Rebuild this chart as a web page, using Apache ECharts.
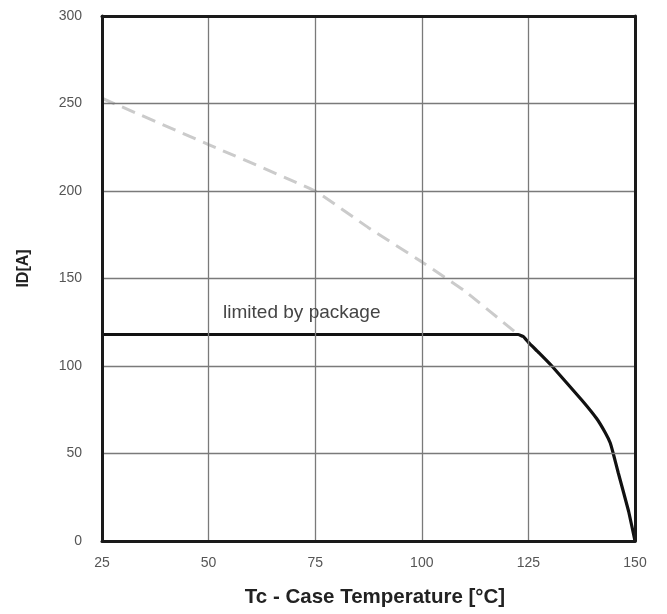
<!DOCTYPE html>
<html>
<head>
<meta charset="utf-8">
<script src="https://cdn.jsdelivr.net/npm/echarts@6/dist/echarts.min.js"></script>
<style>
html,body{margin:0;padding:0;background:#fff;}
#c{width:667px;height:614px;}
</style>
</head>
<body>
<div id="c"></div>
<script>
const xTicks = [25, 50, 75, 100, 125, 150];
const yTicks = [0, 50, 100, 150, 200, 250, 300];
const packageLimitTemp = [25, 122.6, 123.8, 125, 127.5, 130.5, 137.5, 141, 143, 144.2, 144.9, 146.1, 148.5, 150];
const packageLimitId   = [118, 118, 116.8, 113.5, 107.5, 100, 80.6, 70, 62, 56, 50, 38.7, 17, 0];
const siliconTemp = [25, 50, 75, 87.5, 100, 110, 122.6];
const siliconId   = [253, 226.5, 200, 179, 159.5, 143, 118];
const annotation = 'limited by package';

const chart = echarts.init(document.getElementById('c'), null, {renderer: 'canvas'});
const font = '"Liberation Sans", Arial, sans-serif';
const border = {show: true, onZero: false, lineStyle: {color: '#1a1a1a', width: 3}};
chart.setOption({
  animation: false,
  backgroundColor: '#fff',
  grid: {left: 102, right: 32, top: 16, bottom: 73, show: false},
  xAxis: [{
    type: 'value', min: xTicks[0], max: xTicks[xTicks.length-1], interval: 25,
    name: 'Tc - Case Temperature [\u00b0C]', nameLocation: 'middle', nameGap: 46,
    nameTextStyle: {fontFamily: font, fontWeight: 'bold', fontSize: 20.5, color: '#222', padding: [0, 0, 0, 13]},
    axisLine: border, axisTick: {show: false},
    axisLabel: {fontFamily: font, fontSize: 14, color: '#555', margin: 15},
    splitLine: {show: true, lineStyle: {color: '#7a7a7a', width: 1.3}},
    z: 5
  }, {
    type: 'value', position: 'top', min: xTicks[0], max: xTicks[xTicks.length-1], interval: 25,
    axisLine: border, axisTick: {show: false}, axisLabel: {show: false}, splitLine: {show: false}, z: 5
  }],
  yAxis: [{
    type: 'value', min: yTicks[0], max: yTicks[yTicks.length-1], interval: 50,
    name: 'ID[A]', nameLocation: 'middle', nameGap: 70, nameRotate: 90,
    nameTextStyle: {fontFamily: font, fontWeight: 'bold', fontSize: 16, color: '#222', padding: [0, 0, 0, 20]},
    axisLine: border, axisTick: {show: false},
    axisLabel: {fontFamily: font, fontSize: 14, color: '#555', margin: 20},
    splitLine: {show: true, lineStyle: {color: '#7a7a7a', width: 1.3}},
    z: 5
  }, {
    type: 'value', position: 'right', min: yTicks[0], max: yTicks[yTicks.length-1], interval: 50,
    axisLine: border, axisTick: {show: false}, axisLabel: {show: false}, splitLine: {show: false}, z: 5
  }],
  series: [
    {
      type: 'line', data: siliconTemp.map((t, i) => [t, siliconId[i]]),
      smooth: 0.1, symbol: 'none', z: 2,
      lineStyle: {color: '#cbcbcb', width: 3, type: [14, 8]}
    },
    {
      type: 'line', data: packageLimitTemp.map((t, i) => [t, packageLimitId[i]]),
      smooth: 0.1, symbol: 'none', z: 3,
      lineStyle: {color: '#111', width: 3.2},
      markPoint: {
        symbol: 'circle', symbolSize: 0,
        label: {show: true, formatter: annotation, fontFamily: font, fontSize: 19, color: '#444', position: 'right', distance: 0},
        data: [{coord: [53.4, 130.3]}]
      }
    }
  ]
});
</script>
</body>
</html>
